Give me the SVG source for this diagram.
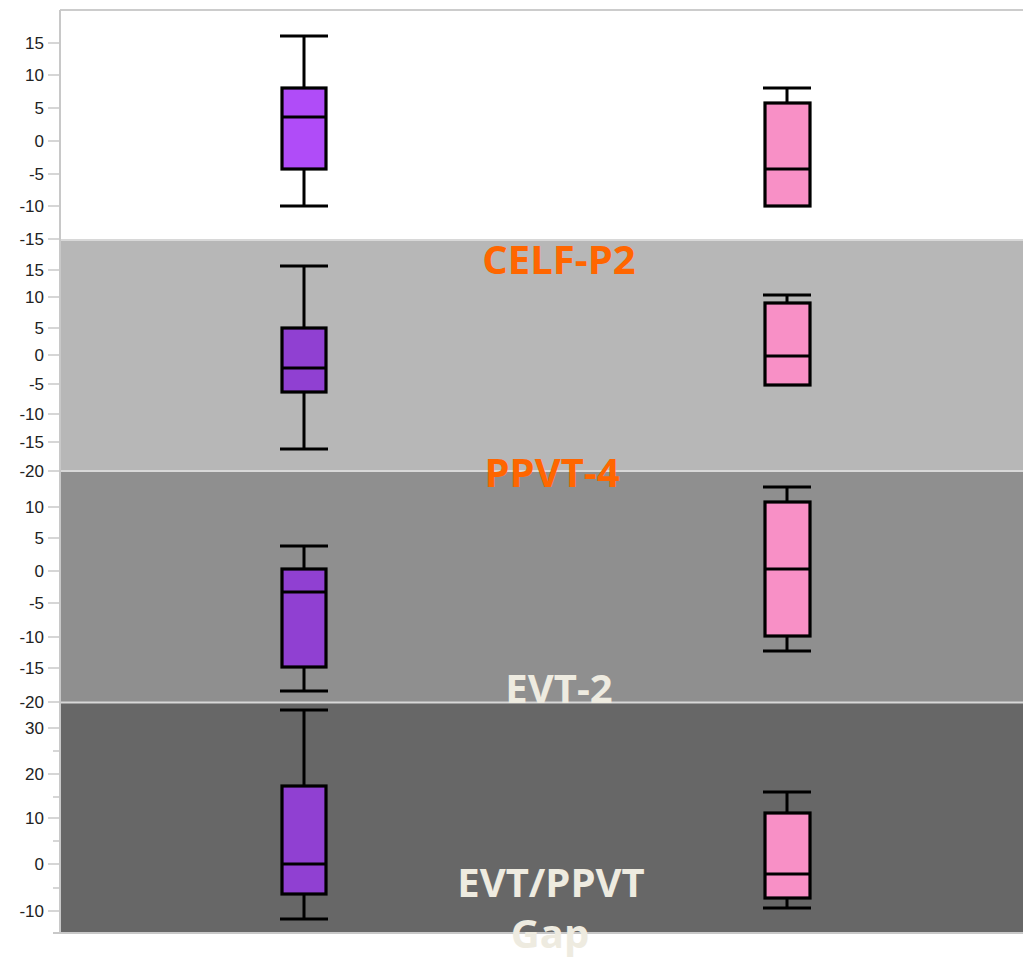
<svg xmlns="http://www.w3.org/2000/svg" width="1023" height="960" viewBox="0 0 1023 960">
<style>
.tick{font-family:"Liberation Sans",Arial,sans-serif;font-size:17px;fill:#222;text-anchor:end}
.tk{stroke:#c8c8c8;stroke-width:1.5}
.wh{stroke:#000;stroke-width:3;fill:none}
.bx{stroke:#000;stroke-width:3.2}
.pw1{fill:#b04cf8}
.pw{fill:#9040d2}
.pc{fill:#f890c6}
.lab{font-family:"Open Sans","Liberation Sans",sans-serif;font-weight:bold;font-size:40px;text-anchor:middle}
.org{fill:#ff6600}
.crm{fill:#eeebe0}
</style>
<rect width="1023" height="960" fill="#ffffff"/>
<g id="panels">
<rect x="60" y="10" width="963" height="229" fill="#ffffff"/>
<rect x="60" y="239" width="963" height="232" fill="#b7b7b7"/>
<rect x="60" y="471" width="963" height="231" fill="#8f8f8f"/>
<rect x="60" y="702" width="963" height="231" fill="#676767"/>
<line x1="60" y1="240" x2="1023" y2="240" stroke="#d8d8d8" stroke-width="2"/>
<line x1="60" y1="471" x2="1023" y2="471" stroke="#d8d8d8" stroke-width="2"/>
<line x1="60" y1="702.5" x2="1023" y2="702.5" stroke="#d8d8d8" stroke-width="2"/>
<line x1="60" y1="10" x2="1023" y2="10" stroke="#cccccc" stroke-width="2"/>
<line x1="60" y1="10" x2="60" y2="933" stroke="#c8c8c8" stroke-width="2"/>
<line x1="53" y1="933" x2="1023" y2="933" stroke="#c8c8c8" stroke-width="2"/>
</g>
<g id="axis">
<g class="tk">
<line x1="48" y1="43" x2="60" y2="43"/><line x1="48" y1="75" x2="60" y2="75"/><line x1="48" y1="108" x2="60" y2="108"/><line x1="48" y1="141" x2="60" y2="141"/><line x1="48" y1="174" x2="60" y2="174"/><line x1="48" y1="206" x2="60" y2="206"/><line x1="48" y1="239" x2="60" y2="239"/>
<line x1="48" y1="270" x2="60" y2="270"/><line x1="48" y1="297" x2="60" y2="297"/><line x1="48" y1="328" x2="60" y2="328"/><line x1="48" y1="355" x2="60" y2="355"/><line x1="48" y1="384" x2="60" y2="384"/><line x1="48" y1="414" x2="60" y2="414"/><line x1="48" y1="442" x2="60" y2="442"/><line x1="48" y1="471" x2="60" y2="471"/>
<line x1="48" y1="507" x2="60" y2="507"/><line x1="48" y1="538" x2="60" y2="538"/><line x1="48" y1="571" x2="60" y2="571"/><line x1="48" y1="603" x2="60" y2="603"/><line x1="48" y1="637" x2="60" y2="637"/><line x1="48" y1="668" x2="60" y2="668"/><line x1="48" y1="702" x2="60" y2="702"/>
<line x1="48" y1="728" x2="60" y2="728"/><line x1="53" y1="751" x2="60" y2="751"/><line x1="48" y1="774" x2="60" y2="774"/><line x1="53" y1="797" x2="60" y2="797"/><line x1="48" y1="818" x2="60" y2="818"/><line x1="53" y1="841" x2="60" y2="841"/><line x1="48" y1="864" x2="60" y2="864"/><line x1="53" y1="888" x2="60" y2="888"/><line x1="48" y1="911" x2="60" y2="911"/>
</g>
<g class="tick">
<text x="44" y="49">15</text><text x="44" y="81">10</text><text x="44" y="114">5</text><text x="44" y="147">0</text><text x="44" y="180">-5</text><text x="44" y="212">-10</text><text x="44" y="245">-15</text>
<text x="44" y="276">15</text><text x="44" y="303">10</text><text x="44" y="334">5</text><text x="44" y="361">0</text><text x="44" y="390">-5</text><text x="44" y="420">-10</text><text x="44" y="448">-15</text><text x="44" y="477">-20</text>
<text x="44" y="513">10</text><text x="44" y="544">5</text><text x="44" y="577">0</text><text x="44" y="609">-5</text><text x="44" y="643">-10</text><text x="44" y="674">-15</text><text x="44" y="708">-20</text>
<text x="44" y="734">30</text><text x="44" y="780">20</text><text x="44" y="824">10</text><text x="44" y="870">0</text><text x="44" y="917">-10</text>
</g>
</g>
<g id="box-celf-word">
<path class="wh" d="M280 36H328M304 36V88M304 169V206M280 206H328"/>
<rect class="bx pw1" x="282" y="88" width="44" height="81"/>
<line class="wh" x1="282" y1="117" x2="326" y2="117"/>
</g>
<g id="box-celf-control">
<path class="wh" d="M763 88H811M787 88V103"/>
<rect class="bx pc" x="765" y="103" width="45" height="103"/>
<line class="wh" x1="765" y1="169" x2="810" y2="169"/>
</g>
<g id="box-ppvt-word">
<path class="wh" d="M280 266H328M304 266V328M304 392V449M280 449H328"/>
<rect class="bx pw" x="282" y="328" width="44" height="64"/>
<line class="wh" x1="282" y1="368" x2="326" y2="368"/>
</g>
<g id="box-ppvt-control">
<path class="wh" d="M763 295H811M787 295V303"/>
<rect class="bx pc" x="765" y="303" width="45" height="82"/>
<line class="wh" x1="765" y1="356" x2="810" y2="356"/>
</g>
<g id="box-evt-word">
<path class="wh" d="M280 546H328M304 546V569M304 667V691M280 691H328"/>
<rect class="bx pw" x="282" y="569" width="44" height="98"/>
<line class="wh" x1="282" y1="592" x2="326" y2="592"/>
</g>
<g id="box-evt-control">
<path class="wh" d="M763 487H811M787 487V502M787 636V651M763 651H811"/>
<rect class="bx pc" x="765" y="502" width="45" height="134"/>
<line class="wh" x1="765" y1="569" x2="810" y2="569"/>
</g>
<g id="box-gap-word">
<path class="wh" d="M280 710H328M304 710V786M304 894V919M280 919H328"/>
<rect class="bx pw" x="282" y="786" width="44" height="108"/>
<line class="wh" x1="282" y1="864" x2="326" y2="864"/>
</g>
<g id="box-gap-control">
<path class="wh" d="M763 792H811M787 792V813M787 898V908M763 908H811"/>
<rect class="bx pc" x="765" y="813" width="45" height="85"/>
<line class="wh" x1="765" y1="874" x2="810" y2="874"/>
</g>
<g id="labels">
<text class="lab org" x="559" y="274">CELF-P2</text>
<text class="lab org" x="552" y="487">PPVT-4</text>
<text class="lab crm" x="559" y="703">EVT-2</text>
<text class="lab crm" x="551" y="897">EVT/PPVT</text>
<text class="lab crm" x="550" y="948">Gap</text>
</g>
</svg>
